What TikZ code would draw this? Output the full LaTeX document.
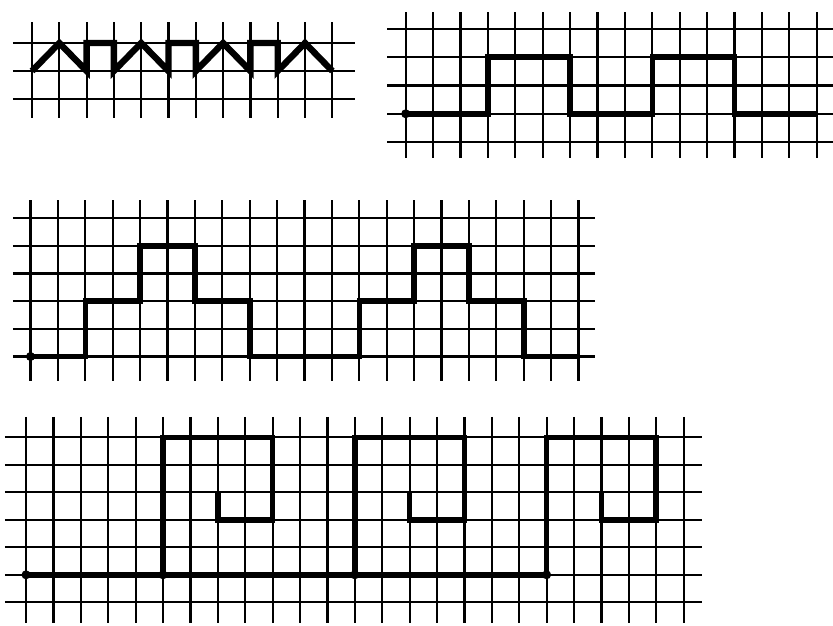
\documentclass[tikz,border=0pt]{standalone}
\begin{document}
\begin{tikzpicture}[x=1pt,y=-1pt,
  gridline/.style={line width=2.2pt, black},
  route/.style={line width=5.6pt, black, line join=miter, line cap=square},
  startdot/.style={fill=black, draw=none}]
\useasboundingbox (0,0) rectangle (833,625);

% ---------- Grid 1 ----------
\begin{scope}[shift={(32,43)}, x=27.3pt, y=-28pt]
  \foreach \k in {0,...,11} \draw[gridline] (\k,-0.75) -- (\k,2.68);
  \foreach \r in {0,1,2} \draw[gridline] (-0.7,\r) -- (11.83,\r);
  \draw[route, line width=6.4pt, line join=miter, line cap=butt]
    (0,1) -- (1,0) -- (2,1) -- (2,0) -- (3,0) -- (3,1) -- (4,0) -- (5,1) -- (5,0)
    -- (6,0) -- (6,1) -- (7,0) -- (8,1) -- (8,0) -- (9,0) -- (9,1) -- (10,0) -- (11,1);
\end{scope}

% ---------- Grid 2 ----------
\begin{scope}[shift={(405.7,29)}, x=27.4pt, y=-28.25pt]
  \foreach \k in {0,...,15} \draw[gridline] (\k,-0.6) -- (\k,4.57);
  \foreach \r in {0,...,4} \draw[gridline] (-0.68,\r) -- (15.6,\r);
  \draw[route] (0,3) -- (3,3) -- (3,1) -- (6,1) -- (6,3) -- (9,3) -- (9,1)
    -- (12,1) -- (12,3) -- (15,3);
  \fill[startdot] (0,3) circle[radius=4.5pt];
\end{scope}

% ---------- Grid 3 ----------
\begin{scope}[shift={(30.5,218)}, x=27.4pt, y=-27.7pt]
  \foreach \k in {0,...,20} \draw[gridline] (\k,-0.65) -- (\k,5.88);
  \foreach \r in {0,...,5} \draw[gridline] (-0.64,\r) -- (20.6,\r);
  \draw[route] (0,5) -- (2,5) -- (2,3) -- (4,3) -- (4,1) -- (6,1) -- (6,3)
    -- (8,3) -- (8,5) -- (12,5) -- (12,3) -- (14,3) -- (14,1) -- (16,1)
    -- (16,3) -- (18,3) -- (18,5) -- (20,5);
  \fill[startdot] (0,5) circle[radius=4.5pt];
\end{scope}

% ---------- Grid 4 ----------
\begin{scope}[shift={(26,437.3)}, x=27.4pt, y=-27.5pt]
  \foreach \k in {0,...,24} \draw[gridline] (\k,-0.74) -- (\k,6.75);
  \foreach \r in {0,...,6} \draw[gridline] (-0.77,\r) -- (24.67,\r);
  \draw[route] (0,5) -- (19,5);
  \draw[route] (5,5) -- (5,0) -- (9,0) -- (9,3) -- (7,3) -- (7,2);
  \draw[route] (12,5) -- (12,0) -- (16,0) -- (16,3) -- (14,3) -- (14,2);
  \draw[route] (19,5) -- (19,0) -- (23,0) -- (23,3) -- (21,3) -- (21,2);
  \foreach \c in {0,5,12,19} \fill[startdot] (\c,5) circle[radius=4.5pt];
\end{scope}
\end{tikzpicture}
\end{document}
